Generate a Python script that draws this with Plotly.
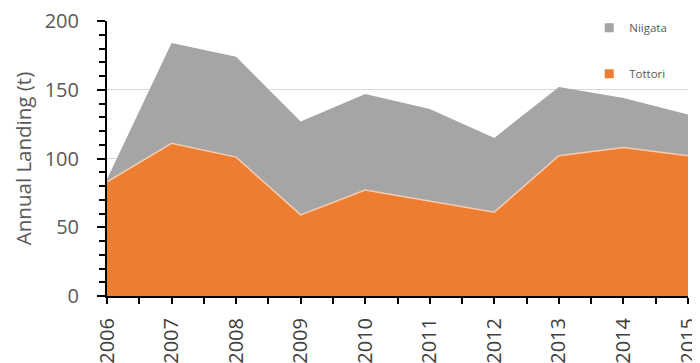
import plotly.graph_objects as go

years = [2006, 2007, 2008, 2009, 2010, 2011, 2012, 2013, 2014, 2015]
tottori = [83, 111, 101, 59, 77, 69, 61, 102, 108, 102]
niigata = [2, 73, 73, 68, 70, 67, 54, 50, 36, 30]
year_labels = [str(y) for y in years]

ORANGE = "#ED7D31"
GRAY = "#A5A5A5"

fig = go.Figure()
fig.add_trace(go.Scatter(
    x=years, y=tottori, name="Tottori", stackgroup="one", mode="lines",
    line=dict(color="#F8CBAD", width=1.5), fillcolor=ORANGE, showlegend=False))
fig.add_trace(go.Scatter(
    x=years, y=niigata, name="Niigata", stackgroup="one", mode="lines",
    line=dict(color=GRAY, width=0), fillcolor=GRAY, showlegend=False))
# legend entries (square swatches)
fig.add_trace(go.Scatter(
    x=[None], y=[None], name="Niigata", mode="markers",
    marker=dict(symbol="square", size=9, color=GRAY), legendgroup="n", legendrank=1))
fig.add_trace(go.Scatter(
    x=[None], y=[None], name="Tottori", mode="markers",
    marker=dict(symbol="square", size=9, color=ORANGE), legendgroup="t", legendrank=2))

fig.update_layout(
    width=700, height=363,
    margin=dict(l=99, r=20, t=13, b=75, autoexpand=False),
    plot_bgcolor="white", paper_bgcolor="white",
    font=dict(family="Open Sans, DejaVu Sans, sans-serif", color="#595959"),
    showlegend=True,
    legend=dict(x=0.83, y=1.028, xanchor="left", yanchor="top",
                traceorder="grouped", tracegroupgap=27,
                bgcolor="white", font=dict(size=11.5, color="#595959"),
                itemwidth=30),
)
fig.update_xaxes(
    range=[2006, 2015], tickvals=years, ticktext=year_labels,
    tickangle=-90, tickfont=dict(size=20, color="#404040"), automargin=False,
    showline=True, linecolor="black", linewidth=2,
    ticks="outside", ticklen=6, tickwidth=2, tickcolor="black",
    minor=dict(dtick=0.5, tick0=2006, ticks="outside", ticklen=6, tickwidth=2, tickcolor="black"),
    ticklabelstandoff=6, ticklabeloverflow="allow",
    showgrid=False, zeroline=False,
)
fig.update_yaxes(
    range=[0, 200], tickvals=[0, 50, 100, 150, 200], tickfont=dict(size=20, color="#595959"),
    automargin=False, ticklabeloverflow="allow",
    title=dict(text="Annual Landing (t)", font=dict(size=20.5, color="#595959"), standoff=8),
    showline=True, linecolor="black", linewidth=2,
    ticks="outside", ticklen=8, tickwidth=2, tickcolor="black",
    minor=dict(dtick=10, ticks="outside", ticklen=6, tickwidth=2, tickcolor="black", showgrid=False),
    ticklabelstandoff=14,
    showgrid=True, gridcolor="#D9D9D9", gridwidth=1, zeroline=False,
)

fig.write_html("out.html")
